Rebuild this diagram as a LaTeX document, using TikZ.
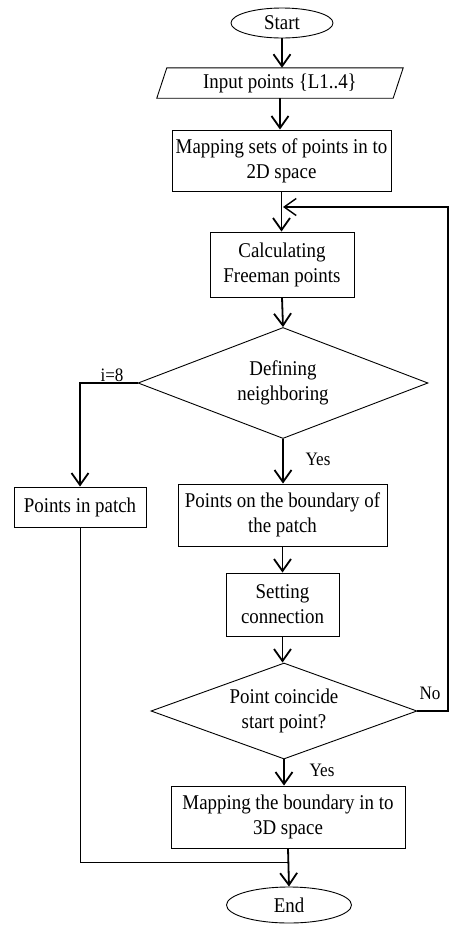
\documentclass[tikz,border=0pt]{standalone}
\usepackage{fontspec}
\setmainfont{Liberation Serif}[FakeStretch=0.9]
\usetikzlibrary{shapes.geometric,arrows.meta,calc}
\newcommand\fsmain{\fontsize{21}{25}\selectfont}
\newcommand\fslab{\fontsize{19}{21}\selectfont}
\begin{document}
\begin{tikzpicture}[x=1pt,y=-1pt,
  box/.style={draw, line width=0.9pt, rectangle, align=center, inner sep=0pt, font=\fsmain},
  oval/.style={draw, line width=0.9pt, ellipse, inner sep=0pt, font=\fsmain},
  dia/.style={draw, line width=0.9pt, diamond, align=center, inner sep=0pt, font=\fsmain},
  arr/.style={line width=1.8pt, -{Straight Barb[length=12pt,width=17pt]}},
  arrthin/.style={line width=1.4pt, -{Straight Barb[length=12pt,width=17pt]}},
  plain/.style={line width=1pt},
  lab/.style={font=\fslab, inner sep=0pt}]
\useasboundingbox (0,0) rectangle (460,930);
\fill[white] (0,0) rectangle (460,930);

\node[oval, minimum width=102pt, minimum height=30pt] (start) at (282,23) {Start};
\node[draw=none, minimum width=236pt, minimum height=30pt, inner sep=0pt, font=\fsmain] (inp) at (280,83) {Input points \{L1..4\}};
\draw[line width=0.9pt] ([xshift=5pt]inp.north west) -- ([xshift=5pt]inp.north east)
  -- ([xshift=-5pt]inp.south east) -- ([xshift=-5pt]inp.south west) -- cycle;
\node[box, minimum width=219pt, minimum height=61pt] (map1) at (281.5,160.5) {Mapping sets of points in to\\2D space};
\node[box, minimum width=144pt, minimum height=65pt] (calc) at (282,264.5) {Calculating\\Freeman points};
\node[dia, minimum width=290pt, minimum height=111pt, aspect=2.6] (d1) at (283,383) {Defining\\neighboring};
\node[box, minimum width=132pt, minimum height=40pt] (pip) at (80,507) {Points in patch};
\node[box, minimum width=209pt, minimum height=62pt] (pob) at (282.5,515) {Points on the boundary of\\the patch};
\node[box, minimum width=113pt, minimum height=63pt] (set) at (282.5,604.5) {Setting\\connection};
\node[dia, minimum width=266pt, minimum height=96pt, aspect=2.77] (d2) at (284,711) {Point coincide\\start point?};
\node[box, minimum width=234pt, minimum height=62pt] (map2) at (288,817) {Mapping the boundary in to\\3D space};
\node[oval, minimum width=125pt, minimum height=36pt] (end) at (289,905) {End};

\coordinate (rc) at (448,207);
\coordinate (li) at (283,207);
\coordinate (jn) at (288,862);

\draw[arr] (start.south) -- (start.south |- inp.north);
\draw[arr] (inp.south) -- (inp.south |- map1.north);
\draw[arr] (map1.south) -- (map1.south |- calc.north);
\draw[arr] (calc.south) -- (d1.north);
\draw[arr] (d1.west) -| (pip.north);
\draw[arr] (d1.south) -- (d1.south |- pob.north);
\draw[arr] (pob.south) -- (pob.south |- set.north);
\draw[arr] (set.south) -- (set.south |- d2.north);
\draw[arr] (d2.south) -- (d2.south |- map2.north);
\draw[arr] (map2.south) -- (end.north);
\draw[arrthin] (d2.east) -| (rc) -- (li);
\draw[plain] (pip.south) |- (jn);

\node[lab] (li8) at (112,375) {i=8};
\node[lab] (ly1) at (318,459) {Yes};
\node[lab] (ly2) at (322,770) {Yes};
\node[lab] (lno) at (430,693) {No};
\end{tikzpicture}
\end{document}
